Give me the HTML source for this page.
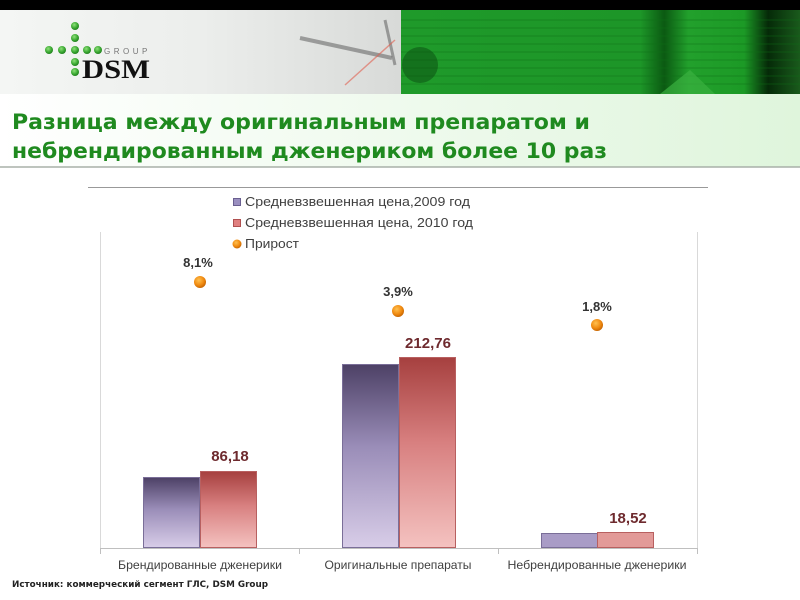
<!DOCTYPE html>
<html><head><meta charset="utf-8"><style>
html,body{margin:0;padding:0;background:#fff;width:800px;height:600px;overflow:hidden}
svg{display:block;font-family:"Liberation Sans","DejaVu Sans",sans-serif}
</style></head><body>
<svg width="800" height="600" viewBox="0 0 800 600" xmlns="http://www.w3.org/2000/svg">
<defs>
<linearGradient id="hdrL" x1="0" y1="0" x2="1" y2="0">
<stop offset="0" stop-color="#f4f6f4"/><stop offset="0.5" stop-color="#eceeec"/><stop offset="1" stop-color="#d8dad8"/></linearGradient>
<linearGradient id="hdrR" x1="0" y1="0" x2="1" y2="0">
<stop offset="0" stop-color="#1f9a2a"/><stop offset="0.6" stop-color="#1d9628"/><stop offset="0.66" stop-color="#0b5a12"/><stop offset="0.72" stop-color="#22a02c"/><stop offset="0.86" stop-color="#1c9a26"/><stop offset="0.92" stop-color="#052a08"/><stop offset="1" stop-color="#1a5a1c"/></linearGradient>
<linearGradient id="band" x1="0" y1="0" x2="1" y2="0">
<stop offset="0" stop-color="#ffffff"/><stop offset="1" stop-color="#dff5dc"/></linearGradient>
<linearGradient id="pur" x1="0" y1="0" x2="0" y2="1">
<stop offset="0" stop-color="#4d4166"/><stop offset="0.45" stop-color="#9a8db8"/><stop offset="1" stop-color="#d8cde8"/></linearGradient>
<linearGradient id="red" x1="0" y1="0" x2="0" y2="1">
<stop offset="0" stop-color="#a6403f"/><stop offset="0.45" stop-color="#d88080"/><stop offset="1" stop-color="#f4c2c0"/></linearGradient>
<radialGradient id="dot" cx="0.4" cy="0.35" r="0.7">
<stop offset="0" stop-color="#ffc050"/><stop offset="0.6" stop-color="#f08a10"/><stop offset="1" stop-color="#c06000"/></radialGradient>
<radialGradient id="gdot" cx="0.4" cy="0.35" r="0.7">
<stop offset="0" stop-color="#8fe07a"/><stop offset="0.6" stop-color="#3aa832"/><stop offset="1" stop-color="#1d7a1a"/></radialGradient>
</defs>

<!-- header -->
<rect x="0" y="0" width="800" height="11" fill="#000"/>
<rect x="0" y="10" width="401" height="84" fill="url(#hdrL)"/>
<rect x="401" y="10" width="399" height="84" fill="url(#hdrR)"/>
<g stroke="#0e6e16" stroke-width="1" opacity="0.45">
<line x1="401" y1="20" x2="800" y2="20"/><line x1="401" y1="28" x2="800" y2="28"/><line x1="401" y1="36" x2="800" y2="36"/><line x1="401" y1="44" x2="800" y2="44"/><line x1="401" y1="52" x2="800" y2="52"/><line x1="401" y1="60" x2="800" y2="60"/><line x1="401" y1="68" x2="800" y2="68"/><line x1="401" y1="76" x2="800" y2="76"/><line x1="401" y1="84" x2="800" y2="84"/>
</g>
<path d="M690 70 L715 94 L660 94 Z" fill="#3ab040" opacity="0.7"/>
<circle cx="420" cy="65" r="18" fill="#0a4a10" opacity="0.5"/>
<line x1="300" y1="38" x2="392" y2="58" stroke="#555" stroke-width="4" opacity="0.5"/>
<line x1="385" y1="20" x2="395" y2="65" stroke="#555" stroke-width="3" opacity="0.5"/>
<line x1="395" y1="40" x2="345" y2="85" stroke="#e06050" stroke-width="1.5" opacity="0.6"/>

<!-- logo -->
<g fill="url(#gdot)">
<circle cx="75" cy="26" r="4"/><circle cx="75" cy="38" r="4"/>
<circle cx="49" cy="50" r="4"/><circle cx="62" cy="50" r="4"/><circle cx="75" cy="50" r="4"/><circle cx="87" cy="50" r="4"/><circle cx="98" cy="50" r="4"/>
<circle cx="75" cy="62" r="4"/><circle cx="75" cy="72" r="4"/>
</g>
<text x="104" y="54" font-size="8" fill="#777" letter-spacing="3.5">GROUP</text>
<text x="82" y="78" style="font-family:'Liberation Serif',serif" font-weight="bold" font-size="26" fill="#111" textLength="68" lengthAdjust="spacingAndGlyphs">DSM</text>

<!-- title band -->
<rect x="0" y="94" width="800" height="73" fill="url(#band)"/>
<line x1="0" y1="167" x2="800" y2="167" stroke="#a8b0a8" stroke-width="1.5"/>
<text x="12" y="129" style="font-family:'DejaVu Sans',sans-serif" font-weight="bold" font-size="21" fill="#1f8a1f" textLength="578" lengthAdjust="spacingAndGlyphs">Разница между оригинальным препаратом и</text>
<text x="12" y="158" style="font-family:'DejaVu Sans',sans-serif" font-weight="bold" font-size="21" fill="#1f8a1f" textLength="595" lengthAdjust="spacingAndGlyphs">небрендированным дженериком более 10 раз</text>

<!-- legend -->
<line x1="88" y1="187.5" x2="708" y2="187.5" stroke="#999" stroke-width="1"/>
<rect x="233.5" y="198.5" width="7" height="7" fill="#9a8fc0" stroke="#6a5f90"/>
<rect x="233.5" y="219.5" width="7" height="7" fill="#e08080" stroke="#b05050"/>
<circle cx="237" cy="244" r="4.5" fill="url(#dot)"/>
<g font-size="12.5" fill="#404040">
<text x="245" y="206" textLength="225" lengthAdjust="spacingAndGlyphs">Средневзвешенная цена,2009 год</text>
<text x="245" y="227" textLength="228" lengthAdjust="spacingAndGlyphs">Средневзвешенная цена, 2010 год</text>
<text x="245" y="248" textLength="54" lengthAdjust="spacingAndGlyphs">Прирост</text>
</g>

<!-- plot frame -->
<g stroke="#d9d9d9" stroke-width="1">
<line x1="100.5" y1="232" x2="100.5" y2="548"/>
<line x1="697.5" y1="232" x2="697.5" y2="548"/>
</g>
<g stroke="#bfbfbf" stroke-width="1">
<line x1="100" y1="548.5" x2="698" y2="548.5"/>
<line x1="100.5" y1="548" x2="100.5" y2="554"/>
<line x1="299.5" y1="548" x2="299.5" y2="554"/>
<line x1="498.5" y1="548" x2="498.5" y2="554"/>
<line x1="697.5" y1="548" x2="697.5" y2="554"/>
</g>

<!-- bars -->
<g stroke-width="1">
<rect x="143.5" y="477.5" width="56" height="70" fill="url(#pur)" stroke="#7a6e98"/>
<rect x="200.5" y="471.5" width="56" height="76" fill="url(#red)" stroke="#b86060"/>
<rect x="342.5" y="364.5" width="56" height="183" fill="url(#pur)" stroke="#7a6e98"/>
<rect x="399.5" y="357.5" width="56" height="190" fill="url(#red)" stroke="#b86060"/>
<rect x="541.5" y="533.5" width="56" height="14" fill="#a99cc6" stroke="#7a6e98"/>
<rect x="597.5" y="532.5" width="56" height="15" fill="#e29a98" stroke="#b86060"/>
</g>

<!-- value labels -->
<g font-weight="bold" font-size="15" fill="#6e2a2e" text-anchor="middle">
<text x="230" y="461">86,18</text>
<text x="428" y="348">212,76</text>
<text x="628" y="523">18,52</text>
</g>

<!-- growth dots -->
<circle cx="200" cy="282" r="6" fill="url(#dot)"/>
<circle cx="398" cy="311" r="6" fill="url(#dot)"/>
<circle cx="597" cy="325" r="6" fill="url(#dot)"/>
<g font-weight="bold" font-size="13" fill="#333" text-anchor="middle">
<text x="198" y="267">8,1%</text>
<text x="398" y="296">3,9%</text>
<text x="597" y="311">1,8%</text>
</g>

<!-- category labels -->
<g font-size="12" fill="#404040" text-anchor="middle">
<text x="200" y="569" textLength="164" lengthAdjust="spacingAndGlyphs">Брендированные дженерики</text>
<text x="398" y="569" textLength="147" lengthAdjust="spacingAndGlyphs">Оригинальные препараты</text>
<text x="597" y="569" textLength="179" lengthAdjust="spacingAndGlyphs">Небрендированные дженерики</text>
</g>

<!-- source -->
<text x="12" y="587" style="font-family:'DejaVu Sans',sans-serif" font-weight="bold" font-size="8.5" fill="#222" textLength="256" lengthAdjust="spacingAndGlyphs">Источник: коммерческий сегмент ГЛС, DSM Group</text>
</svg>
</body></html>
